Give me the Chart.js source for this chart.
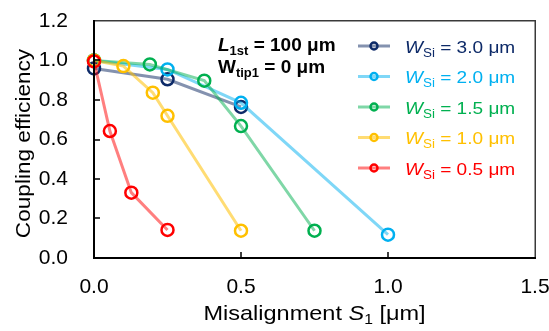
<!DOCTYPE html>
<html>
<head>
<meta charset="utf-8">
<script src="https://cdn.jsdelivr.net/npm/chart.js@4/dist/chart.umd.min.js"></script>
<style>
  html, body { margin: 0; padding: 0; background: #fff; }
  #wrap { width: 549px; height: 331px; position: relative; }
  #frameLayer { position: absolute; left: 0; top: 0; pointer-events: none; }
</style>
</head>
<body>
<div id="wrap">
  <canvas id="couplingChart"></canvas>
  <canvas id="frameLayer" width="549" height="331"></canvas>
</div>
<script>
// Misalignment S1 [um] and coupling efficiency for each Si width
const s1_w30 = [0, 0.25, 0.5];
const eff_w30 = [0.96, 0.905, 0.765];
const s1_w20 = [0, 0.25, 0.5, 1.0];
const eff_w20 = [1.0, 0.955, 0.786, 0.118];
const s1_w15 = [0, 0.19, 0.375, 0.5, 0.75];
const eff_w15 = [1.0, 0.98, 0.898, 0.668, 0.138];
const s1_w10 = [0, 0.1, 0.2, 0.25, 0.5];
const eff_w10 = [1.0, 0.972, 0.837, 0.72, 0.138];
const s1_w05 = [0, 0.054, 0.127, 0.25];
const eff_w05 = [0.995, 0.643, 0.331, 0.142];

const widthLabels = ['3.0', '2.0', '1.5', '1.0', '0.5'];
const markerColors = ['#0d2a68', '#00b0f0', '#00b050', '#ffc000', '#ff0000'];
const lineColors = ['rgba(31,56,110,0.55)', 'rgba(0,176,240,0.5)', 'rgba(0,176,80,0.5)', 'rgba(255,192,0,0.55)', 'rgba(255,0,0,0.5)'];

const xTicks = [0, 0.5, 1.0, 1.5];
const yTicks = [0, 0.2, 0.4, 0.6, 0.8, 1.0, 1.2];

const FONT = '"Liberation Sans", Arial, sans-serif';

function toPoints(xs, ys) {
    return xs.map((x, i) => ({ x: x, y: ys[i] }));
}

const seriesData = [
    toPoints(s1_w30, eff_w30),
    toPoints(s1_w20, eff_w20),
    toPoints(s1_w15, eff_w15),
    toPoints(s1_w10, eff_w10),
    toPoints(s1_w05, eff_w05)
];

const datasets = seriesData.map((pts, i) => ({
    label: 'W_Si = ' + widthLabels[i] + ' μm',
    data: pts,
    borderColor: lineColors[i],
    borderWidth: 3,
    pointBorderColor: markerColors[i],
    pointBackgroundColor: 'rgba(0,0,0,0)',
    pointBorderWidth: 2.5,
    pointRadius: 6,
    tension: 0,
    clip: false,
    order: 5 - i
}));

// draw a run of text pieces with different fonts / baseline shifts,
// optionally stretched horizontally by sx
function drawRuns(ctx, x, y, runs, color, sx) {
    sx = sx || 1;
    ctx.save();
    ctx.translate(x, y);
    ctx.scale(sx, 1);
    ctx.fillStyle = color;
    ctx.textBaseline = 'alphabetic';
    ctx.textAlign = 'left';
    let cx = 0;
    runs.forEach(r => {
        ctx.font = r.font;
        ctx.fillText(r.text, cx, r.dy || 0);
        cx += ctx.measureText(r.text).width;
    });
    ctx.restore();
}

function runsWidth(ctx, runs) {
    let w = 0;
    ctx.save();
    runs.forEach(r => { ctx.font = r.font; w += ctx.measureText(r.text).width; });
    ctx.restore();
    return w;
}

// plot frame and inward ticks go on their own layer above the chart
function drawFrame(chart) {
    const layer = document.getElementById('frameLayer');
    const fctx = layer.getContext('2d');
    const a = chart.chartArea;
    const xs = chart.scales.x, ys = chart.scales.y;
    const L = Math.round(a.left), T = Math.round(a.top);
    const R = Math.round(a.right), B = Math.round(a.bottom);

    fctx.clearRect(0, 0, layer.width, layer.height);
    fctx.fillStyle = '#3a3a3a';
    fctx.fillRect(L, T - 1, R - L + 1, 1.5);
    fctx.fillRect(R - 0.5, T - 1, 1.5, B - T + 1);
    fctx.fillStyle = '#000';
    fctx.fillRect(L - 1, T - 1, 2, B - T + 2);
    fctx.fillRect(L - 1, B - 1, R - L + 2, 2);

    yTicks.slice(1, -1).forEach(v => {
        const py = Math.round(ys.getPixelForValue(v));
        fctx.fillRect(L, py - 0.75, 6, 1.5);
    });
    xTicks.slice(1, -1).forEach(v => {
        const px = Math.round(xs.getPixelForValue(v));
        fctx.fillRect(px - 0.75, B - 6, 1.5, 6);
    });
}

const decorPlugin = {
    id: 'decor',
    afterDraw(chart) {
        const ctx = chart.ctx;
        const a = chart.chartArea;

        drawFrame(chart);

        // x axis title
        const xTitle = [
            { text: 'Misalignment ', font: '21px ' + FONT },
            { text: 'S', font: 'italic 21px ' + FONT },
            { text: '1', font: '14px ' + FONT, dy: 4 },
            { text: ' [μm]', font: '21px ' + FONT }
        ];
        const xStretch = 1.12;
        const xw = runsWidth(ctx, xTitle) * xStretch;
        drawRuns(ctx, (a.left + a.right) / 2 - xw / 2, 320, xTitle, '#000', xStretch);

        // y axis title
        const yTitle = [{ text: 'Coupling efficiency', font: '20px ' + FONT }];
        const yStretch = 1.13;
        const yw = runsWidth(ctx, yTitle) * yStretch;
        ctx.save();
        ctx.translate(30, (a.top + a.bottom) / 2 + 4);
        ctx.rotate(-Math.PI / 2);
        drawRuns(ctx, -yw / 2, 0, yTitle, '#000', yStretch);
        ctx.restore();

        // parameter note
        drawRuns(ctx, 218, 51, [
            { text: 'L', font: 'italic bold 19px ' + FONT },
            { text: '1st', font: 'bold 13px ' + FONT, dy: 4 },
            { text: ' = 100 μm', font: 'bold 19px ' + FONT }
        ], '#000');
        drawRuns(ctx, 218, 73, [
            { text: 'W', font: 'bold 19px ' + FONT },
            { text: 'tip1', font: 'bold 13px ' + FONT, dy: 4 },
            { text: ' = 0 μm', font: 'bold 19px ' + FONT }
        ], '#000');

        // legend
        ctx.save();
        chart.data.datasets.forEach((ds, i) => {
            const cy = 46 + i * 30.5;
            ctx.strokeStyle = ds.borderColor;
            ctx.lineWidth = 3;
            ctx.beginPath();
            ctx.moveTo(358, cy);
            ctx.lineTo(390, cy);
            ctx.stroke();
            ctx.strokeStyle = ds.pointBorderColor;
            ctx.lineWidth = 2.5;
            ctx.beginPath();
            ctx.arc(374, cy, 3.5, 0, Math.PI * 2);
            ctx.stroke();
            drawRuns(ctx, 405, cy + 6.5, [
                { text: 'W', font: 'italic 17px ' + FONT },
                { text: 'Si', font: '12px ' + FONT, dy: 4 },
                { text: ' = ' + widthLabels[i] + ' μm', font: '17px ' + FONT }
            ], ds.pointBorderColor, 1.12);
        });
        ctx.restore();
    }
};

new Chart(document.getElementById('couplingChart'), {
    type: 'line',
    data: { datasets: datasets },
    options: {
        responsive: true,
        maintainAspectRatio: false,
        animation: false,
        events: [],
        layout: { padding: { top: 21, right: 14, left: 0, bottom: 0 } },
        plugins: {
            legend: { display: false },
            tooltip: { enabled: false }
        },
        scales: {
            x: {
                type: 'linear',
                min: 0,
                max: 1.5,
                afterFit: s => { s.height = 73; s.paddingLeft = 0; s.paddingRight = 0; },
                afterBuildTicks: s => { s.ticks = xTicks.map(v => ({ value: v })); },
                ticks: {
                    padding: 9,
                    color: '#000',
                    font: { family: FONT, size: 21 },
                    callback: v => v.toFixed(1)
                },
                grid: { display: false },
                border: { display: false }
            },
            y: {
                min: 0,
                max: 1.2,
                afterFit: s => { s.width = 94; s.paddingTop = 0; s.paddingBottom = 0; },
                afterBuildTicks: s => { s.ticks = yTicks.map(v => ({ value: v })); },
                ticks: {
                    padding: 18,
                    color: '#000',
                    font: { family: FONT, size: 21 },
                    callback: v => v.toFixed(1)
                },
                grid: { display: false },
                border: { display: false }
            }
        }
    },
    plugins: [decorPlugin]
});
</script>
</body>
</html>
